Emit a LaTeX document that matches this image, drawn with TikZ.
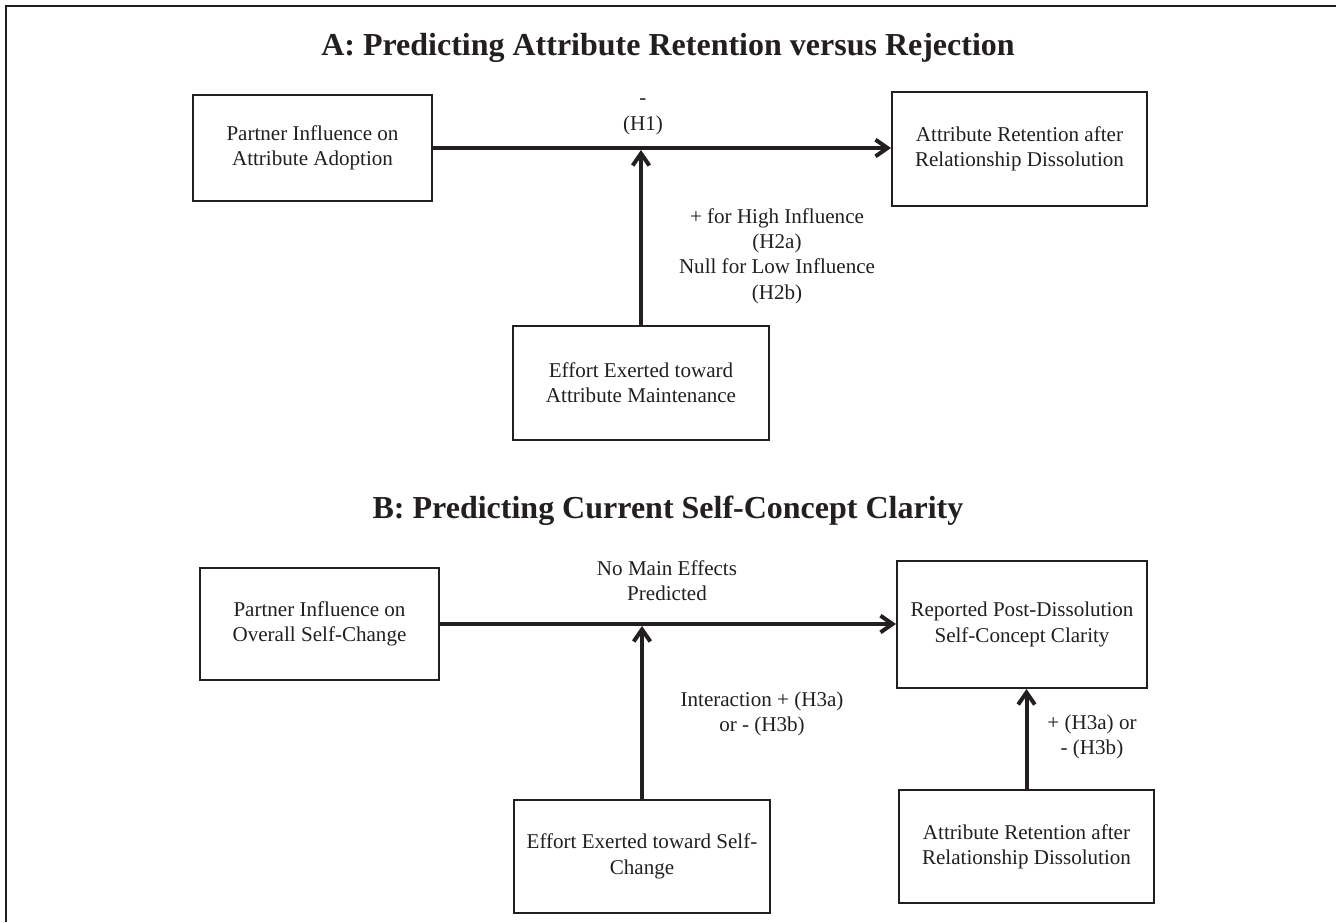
\documentclass[tikz,border=0pt]{standalone}
\usepackage{fontspec}
\setmainfont{Liberation Serif}
\usetikzlibrary{arrows.meta,calc}
\definecolor{ink}{HTML}{231F20}

\tikzset{
	varbox/.style={draw=ink, line width=1.5pt, align=center, inner sep=0pt, text=ink, font=\fontsize{15.8}{19}\selectfont},
	effect/.style={draw=ink, line width=3pt, -{Straight Barb[length=9pt,width=12.5pt]}},
	hyplabel/.style={align=center, inner sep=0pt, text=ink, font=\fontsize{15.8}{19}\selectfont},
	paneltitle/.style={anchor=base, inner sep=0pt, text=ink, font=\bfseries\fontsize{24}{28}\selectfont}
}

\begin{document}
\begin{tikzpicture}[x=0.75pt, y=-0.75pt]
			%%%%% START %%%%%
			\useasboundingbox (0, 0) rectangle (1336, 922);
			
			% frame
			\draw[ink, line width=1.5pt] (6, 922) -- (6, 5.5) -- (1336, 5.5);
			
			%%%%% PANEL A %%%%%
			\node[paneltitle] (titleA) at (668, 55) {A: Predicting Attribute Retention versus Rejection};
			
			\node[varbox, minimum width=239*0.75pt, minimum height=106*0.75pt] (infA) at (312.5, 148) {Partner Influence on\\Attribute Adoption};
			\node[varbox, minimum width=255*0.75pt, minimum height=114*0.75pt] (retA) at (1019.5, 149) {Attribute Retention after\\Relationship Dissolution};
			\node[varbox, minimum width=256*0.75pt, minimum height=114*0.75pt] (effA) at (641, 383) {Effort Exerted toward\\Attribute Maintenance};
			
			\draw[effect] (infA.east) -- (infA.east -| retA.west);
			\coordinate (jointA) at ($(effA.north |- infA.east)+(0, 2)$);
			\draw[effect] (effA.north) -- (jointA);
			
			\node[hyplabel] (hypOne) at (643, 117) {-\\(H1)};
			\node[hyplabel] (hypTwo) at (777, 256) {+ for High Influence\\(H2a)\\Null for Low Influence\\(H2b)};
			
			%%%%% PANEL B %%%%%
			\node[paneltitle] (titleB) at (668, 518) {B: Predicting Current Self-Concept Clarity};
			
			\node[varbox, minimum width=239*0.75pt, minimum height=112*0.75pt] (infB) at (319.5, 624) {Partner Influence on\\Overall Self-Change};
			\node[varbox, minimum width=250*0.75pt, minimum height=127*0.75pt] (clarB) at (1022, 624.5) {Reported Post-Dissolution\\Self-Concept Clarity};
			\node[varbox, minimum width=256*0.75pt, minimum height=113*0.75pt] (effB) at (642, 856.5) {Effort Exerted toward Self-\\Change};
			\node[varbox, minimum width=255*0.75pt, minimum height=113*0.75pt] (retB) at (1026.5, 846.5) {Attribute Retention after\\Relationship Dissolution};
			
			\draw[effect] (infB.east) -- (infB.east -| clarB.west);
			\coordinate (jointB) at ($(effB.north |- infB.east)+(0, 2)$);
			\draw[effect] (effB.north) -- (jointB);
			\draw[effect] (retB.north) -- (retB.north |- clarB.south);
			
			\node[hyplabel] (noMain) at (667, 581) {No Main Effects\\Predicted};
			\node[hyplabel] (hypThree) at (762, 714) {Interaction + (H3a)\\or - (H3b)};
			\node[hyplabel] (hypRet) at (1092, 737) {+ (H3a) or\\- (H3b)};
			
			%%%%% END %%%%%
\end{tikzpicture}
\end{document}
